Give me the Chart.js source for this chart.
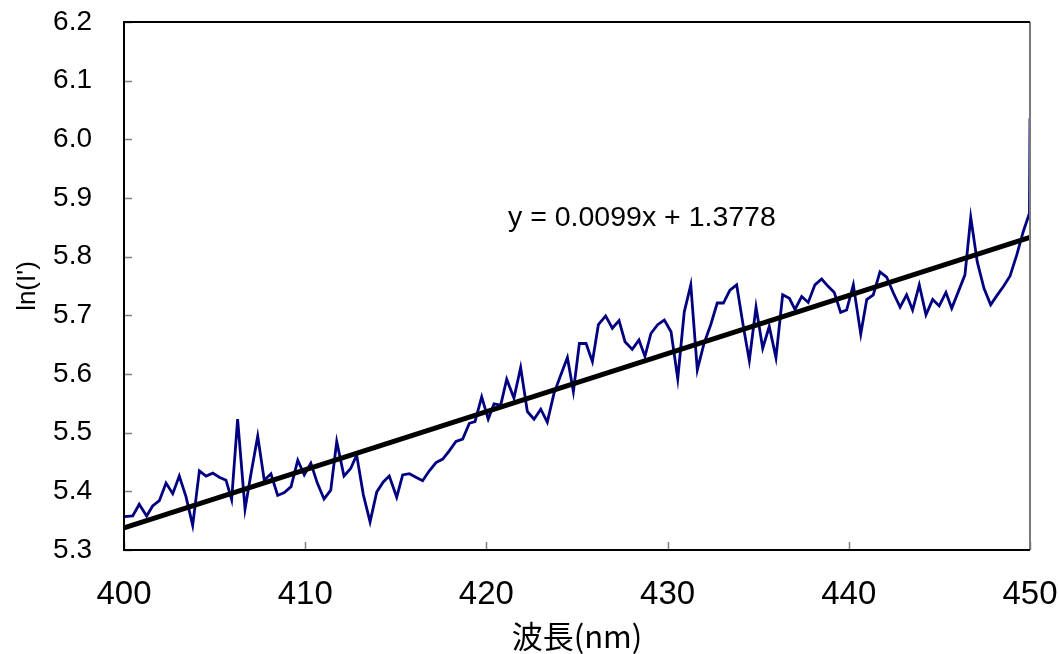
<!DOCTYPE html>
<html>
<head>
<meta charset="utf-8">
<title>ln(I') vs 波長</title>
<script src="https://cdn.jsdelivr.net/npm/chart.js@4/dist/chart.umd.min.js"></script>
<style>
  html, body { margin: 0; padding: 0; background: #fff; }
  #wrap { width: 1059px; height: 654px; }
</style>
</head>
<body>
<div id="wrap"><canvas id="spectrum" width="1059" height="654"></canvas></div>
<script>
// measured spectrum: wavelength (nm) and ln of intensity
const wavelengths = [
  400.00, 400.48, 400.84, 401.25, 401.58, 401.95, 402.32, 402.69, 403.05, 403.42,
  403.79, 404.16, 404.53, 404.90, 405.26, 405.63, 405.94, 406.27, 406.68, 407.02,
  407.38, 407.74, 408.11, 408.48, 408.85, 409.22, 409.59, 409.95, 410.31, 410.67,
  411.04, 411.41, 411.74, 412.14, 412.51, 412.84, 413.21, 413.58, 413.95, 414.31,
  414.64, 415.05, 415.38, 415.75, 416.11, 416.48, 416.85, 417.22, 417.59, 417.95,
  418.32, 418.69, 419.06, 419.37, 419.74, 420.10, 420.42, 420.79, 421.12, 421.52,
  421.89, 422.26, 422.63, 423.00, 423.36, 423.73, 424.10, 424.47, 424.80, 425.13,
  425.50, 425.85, 426.18, 426.58, 426.95, 427.32, 427.65, 428.05, 428.42, 428.75,
  429.08, 429.45, 429.82, 430.19, 430.56, 430.92, 431.28, 431.64, 432.01, 432.38,
  432.74, 433.08, 433.44, 433.81, 434.18, 434.51, 434.88, 435.25, 435.61, 435.98,
  436.35, 436.72, 437.03, 437.40, 437.76, 438.13, 438.50, 438.87, 439.20, 439.55,
  439.88, 440.25, 440.66, 440.99, 441.35, 441.72, 442.09, 442.46, 442.83, 443.19,
  443.52, 443.89, 444.26, 444.63, 444.99, 445.36, 445.68, 446.04, 446.41, 446.73,
  447.09, 447.46, 447.83, 448.18, 448.55, 448.90, 449.27, 449.63, 449.97, 450.00
];
const lnIntensity = [
  5.357, 5.358, 5.378, 5.358, 5.375, 5.384, 5.414, 5.396, 5.426, 5.391,
  5.342, 5.435, 5.426, 5.431, 5.424, 5.419, 5.386, 5.523, 5.370, 5.432,
  5.494, 5.419, 5.430, 5.393, 5.398, 5.408, 5.453, 5.428, 5.448, 5.414,
  5.387, 5.402, 5.485, 5.426, 5.439, 5.462, 5.394, 5.348, 5.399, 5.416,
  5.426, 5.390, 5.428, 5.430, 5.424, 5.418, 5.435, 5.449, 5.455, 5.469,
  5.485, 5.489, 5.516, 5.519, 5.561, 5.523, 5.549, 5.547, 5.591, 5.559,
  5.611, 5.536, 5.523, 5.540, 5.518, 5.567, 5.598, 5.628, 5.570, 5.652,
  5.652, 5.621, 5.684, 5.699, 5.678, 5.691, 5.655, 5.642, 5.658, 5.630,
  5.669, 5.684, 5.692, 5.672, 5.592, 5.706, 5.752, 5.607, 5.652, 5.684,
  5.721, 5.721, 5.743, 5.752, 5.681, 5.623, 5.714, 5.644, 5.681, 5.628,
  5.735, 5.729, 5.710, 5.732, 5.722, 5.752, 5.762, 5.749, 5.739, 5.705,
  5.709, 5.752, 5.668, 5.727, 5.735, 5.774, 5.765, 5.738, 5.714, 5.735,
  5.709, 5.752, 5.701, 5.727, 5.716, 5.739, 5.712, 5.740, 5.769, 5.867,
  5.791, 5.746, 5.718, 5.734, 5.750, 5.767, 5.803, 5.843, 5.874, 6.036
];

// linear fit shown on the chart
const fitSlope = 0.0099;
const fitIntercept = 1.3778;
const fitRange = [400, 450];

const xTicks = [400, 410, 420, 430, 440, 450];
const yTicks = [5.3, 5.4, 5.5, 5.6, 5.7, 5.8, 5.9, 6.0, 6.1, 6.2];

const fitLabel = 'y = ' + fitSlope + 'x + ' + fitIntercept;

// plot frame, inward tick marks and the tick labels
// (labels drawn here so they don't push the chart area around)
const frameAndTicks = {
  id: 'frameAndTicks',
  afterDatasetsDraw(chart) {
    const { ctx, chartArea: a, scales } = chart;
    ctx.save();
    ctx.strokeStyle = '#808080';
    ctx.lineWidth = 1.5;
    ctx.beginPath();
    yTicks.forEach(v => {
      const y = Math.round(scales.y.getPixelForValue(v)) + 0.5;
      ctx.moveTo(a.left, y);
      ctx.lineTo(a.left + 8, y);
    });
    xTicks.forEach(v => {
      const x = Math.round(scales.x.getPixelForValue(v)) + 0.5;
      ctx.moveTo(x, a.bottom);
      ctx.lineTo(x, a.bottom - 8);
    });
    ctx.stroke();

    ctx.strokeStyle = '#7a7a7a';
    ctx.lineWidth = 2;
    ctx.beginPath();
    ctx.moveTo(a.right, a.top);
    ctx.lineTo(a.right, a.bottom);
    ctx.stroke();

    ctx.strokeStyle = '#000';
    ctx.lineWidth = 2;
    ctx.beginPath();
    ctx.moveTo(a.right, a.top);
    ctx.lineTo(a.left, a.top);
    ctx.lineTo(a.left, a.bottom);
    ctx.lineTo(a.right, a.bottom);
    ctx.stroke();

    ctx.fillStyle = '#000';
    ctx.textBaseline = 'middle';

    ctx.font = '28px "Liberation Sans", Arial, sans-serif';
    ctx.textAlign = 'right';
    yTicks.forEach(v => {
      ctx.fillText(v.toFixed(1), a.left - 32, scales.y.getPixelForValue(v));
    });

    ctx.font = '33px "Liberation Sans Narrow", "Liberation Sans", sans-serif';
    ctx.textAlign = 'center';
    xTicks.forEach(v => {
      ctx.fillText(String(v), scales.x.getPixelForValue(v), a.bottom + 45);
    });

    // regression equation
    ctx.font = '28.5px "Liberation Sans", Arial, sans-serif';
    ctx.textAlign = 'left';
    ctx.fillText(fitLabel, 508, 218);
    ctx.restore();
  }
};

new Chart(document.getElementById('spectrum'), {
  type: 'line',
  data: {
    datasets: [
      {
        label: 'fit',
        data: fitRange.map(x => ({ x: x, y: fitSlope * x + fitIntercept })),
        borderColor: '#000',
        borderWidth: 5,
        pointRadius: 0,
        order: 0
      },
      {
        label: 'ln(I\')',
        data: wavelengths.map((x, i) => ({ x: x, y: lnIntensity[i] })),
        borderColor: '#000080',
        borderWidth: 2.8,
        pointRadius: 0,
        tension: 0,
        order: 1
      }
    ]
  },
  options: {
    responsive: false,
    animation: false,
    devicePixelRatio: 1,
    layout: { padding: { top: 22, right: 29, left: 0, bottom: 0 } },
    plugins: {
      legend: { display: false },
      tooltip: { enabled: false }
    },
    scales: {
      x: {
        type: 'linear',
        min: 400,
        max: 450,
        afterFit: s => { s.height = 104; },
        grid: { display: false, drawTicks: false },
        border: { display: false },
        ticks: { display: false },
        title: {
          display: true,
          text: '波長(nm)',
          color: '#000',
          padding: { top: 0, bottom: 2 },
          font: { family: '"Liberation Sans Narrow", "Noto Sans CJK JP", sans-serif', size: 31, lineHeight: 1 }
        }
      },
      y: {
        min: 5.3,
        max: 6.2,
        afterFit: s => { s.width = 124; },
        grid: { display: false, drawTicks: false },
        border: { display: false },
        ticks: { display: false },
        title: {
          display: true,
          text: 'ln(I\')',
          color: '#000',
          padding: { top: 15, bottom: 0 },
          font: { family: '"Liberation Sans", "Noto Sans CJK JP", sans-serif', size: 26, lineHeight: 1 }
        }
      }
    }
  },
  plugins: [frameAndTicks]
});
</script>
</body>
</html>
